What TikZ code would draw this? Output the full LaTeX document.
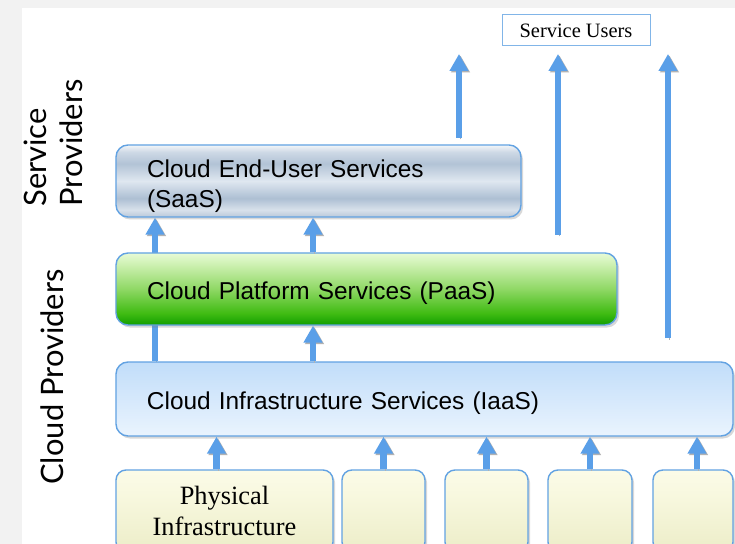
\documentclass[tikz,border=0pt]{standalone}
\usepackage{fontspec}
\setmainfont{Liberation Serif}
\setsansfont{Liberation Sans}
\newfontfamily\sidefont{Lato}
\usepackage{tikz}
\usetikzlibrary{arrows.meta}
\usetikzlibrary{shadows}
\usetikzlibrary{backgrounds}

\definecolor{arrowblue}{HTML}{5A9FE8}
\definecolor{edgeblue}{HTML}{62A2E2}
\definecolor{pagegray}{HTML}{F2F2F2}

% box fills, bottom (25bp) to top (75bp)
\pgfdeclareverticalshading{saasfill}{100bp}{color(0bp)=(rgb,255:red,185;green,200;blue,217);
  color(25bp)=(rgb,255:red,185;green,200;blue,217);
  color(30bp)=(rgb,255:red,216;green,225;blue,235);
  color(38bp)=(rgb,255:red,173;green,191;blue,211);
  color(50bp)=(rgb,255:red,223;green,231;blue,240);
  color(62bp)=(rgb,255:red,178;green,195;blue,214);
  color(70bp)=(rgb,255:red,205;green,216;blue,229);
  color(75bp)=(rgb,255:red,243;green,246;blue,249);
  color(100bp)=(rgb,255:red,243;green,246;blue,249)}
\pgfdeclareverticalshading{paasfill}{100bp}{color(0bp)=(rgb,255:red,18;green,158;blue,0);
  color(25bp)=(rgb,255:red,18;green,158;blue,0);
  color(33bp)=(rgb,255:red,63;green,187;blue,18);
  color(50bp)=(rgb,255:red,143;green,216;blue,101);
  color(65bp)=(rgb,255:red,198;green,238;blue,168);
  color(75bp)=(rgb,255:red,232;green,251;blue,214);
  color(100bp)=(rgb,255:red,232;green,251;blue,214)}
\pgfdeclareverticalshading{iaasfill}{100bp}{color(0bp)=(rgb,255:red,234;green,244;blue,254);
  color(25bp)=(rgb,255:red,234;green,244;blue,254);
  color(75bp)=(rgb,255:red,193;green,221;blue,249);
  color(100bp)=(rgb,255:red,193;green,221;blue,249)}
\pgfdeclareverticalshading{hwfill}{100bp}{color(0bp)=(rgb,255:red,236;green,237;blue,200);
  color(25bp)=(rgb,255:red,236;green,237;blue,200);
  color(60bp)=(rgb,255:red,248;green,248;blue,223);
  color(75bp)=(rgb,255:red,251;green,251;blue,232);
  color(100bp)=(rgb,255:red,251;green,251;blue,232)}

\begin{document}
\begin{tikzpicture}[x=1bp, y=-1bp]

% Define styles
\tikzset{
    layerbox/.style={draw=edgeblue, line width=1.4bp, rounded corners=12bp,
        drop shadow={shadow xshift=2bp, shadow yshift=-2.5bp, opacity=0.3},
        inner xsep=31bp, inner ysep=2bp, align=left,
        font=\sffamily\fontsize{24.5}{30}\selectfont},
    hwbox/.style={draw=edgeblue, line width=1.4bp, rounded corners=10bp, shading=hwfill,
        drop shadow={shadow xshift=2bp, shadow yshift=-2.5bp, opacity=0.3},
        minimum height=82bp, align=center, inner sep=0pt,
        font=\fontsize{26.5}{31}\selectfont},
    uparrow/.style={draw=arrowblue, line width=6.5bp, -{Triangle[width=18bp,length=17bp]},
        preaction={draw=black!30, transform canvas={shift={(1.5bp,-1.5bp)}}}},
    sidelabel/.style={rotate=90, align=left, inner sep=0pt,
        font=\sidefont\fontsize{31}{36}\selectfont}
}

\useasboundingbox (0,0) rectangle (735,544);
\clip (0,0) rectangle (735,544);

% page and sheet
\begin{scope}[on background layer]
\fill[pagegray] (0,0) rectangle (735,544);
\fill[white] (22,8) rectangle (735,544);
\end{scope}

% side labels
\node[sidelabel] (sp) at (53,143) {Service\\Providers};
\node[sidelabel] (cp) at (52,377) {Cloud Providers};

% service layers
\node[layerbox, shading=saasfill, text width=343bp, text height=18bp, text depth=24bp,
    minimum height=72bp] (saas) at (318.5,181) {Cloud End-User Services\\(SaaS)};
\node[layerbox, shading=paasfill, text width=439bp, text height=21bp, text depth=0bp,
    minimum height=72bp] (paas) at (366.5,289) {Cloud Platform Services (PaaS)};
\node[layerbox, shading=iaasfill, text width=555bp, text height=21bp, text depth=0bp,
    minimum height=74bp] (iaas) at (424.5,399) {Cloud Infrastructure Services (IaaS)};

% physical resources
\node[hwbox, minimum width=217bp] (hw1) at (224.5,511) {Physical\\Infrastructure};
\node[hwbox, minimum width=83bp] (hw2) at (383.5,511) {};
\node[hwbox, minimum width=83bp] (hw3) at (486.5,511) {};
\node[hwbox, minimum width=84bp] (hw4) at (590,511) {};
\node[hwbox, minimum width=80bp] (hw5) at (693,511) {};

% users box
\node[draw=edgeblue!80, line width=1bp, fill=white, minimum width=148bp, minimum height=31bp,
    inner sep=0pt, font=\fontsize{20.5}{24}\selectfont] (users) at (576,30.5) {Service Users};

% columns for the arrows
\coordinate (lft) at (155,0);
\coordinate (mid) at (313,0);

% arrows into IaaS
\draw[uparrow] ([xshift=-8bp]hw1.north) -- ([xshift=-8bp]hw1.north |- iaas.south);
\draw[uparrow] (hw2.north) -- (hw2.north |- iaas.south);
\draw[uparrow] (hw3.north) -- (hw3.north |- iaas.south);
\draw[uparrow] (hw4.north) -- (hw4.north |- iaas.south);
\draw[uparrow] ([xshift=4bp]hw5.north) -- ([xshift=4bp]hw5.north |- iaas.south);

% arrows between layers
\begin{scope}[on background layer]
\draw[uparrow] (iaas.north -| lft) -- (saas.south -| lft);
\end{scope}
\draw[uparrow] (iaas.north -| mid) -- (paas.south -| mid);
\draw[uparrow] (paas.north -| mid) -- (saas.south -| mid);

% arrows up to the users
\coordinate (t1) at (459,138);
\coordinate (t2) at (558,235);
\coordinate (t3) at (668,338);
\coordinate (top) at (0,54);
\draw[uparrow] (t1) -- (t1 |- top);
\draw[uparrow] (t2) -- (t2 |- top);
\draw[uparrow] (t3) -- (t3 |- top);

\end{tikzpicture}
\end{document}
